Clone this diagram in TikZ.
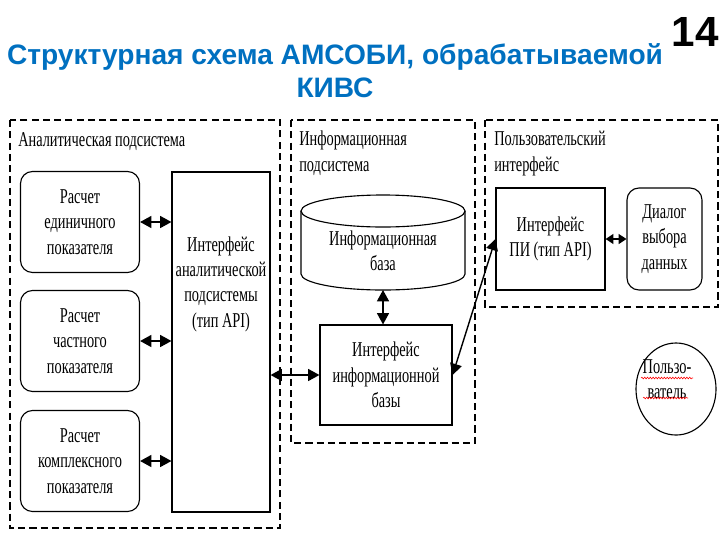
\documentclass[tikz,border=0pt]{standalone}
\usepackage{fontspec}
\setmainfont{Liberation Serif}[FakeStretch=0.68]
\newfontfamily\titlefont{Liberation Sans}
\usetikzlibrary{arrows.meta, shapes.geometric, decorations.pathmorphing}
\definecolor{titleblue}{RGB}{0,112,192}
\tikzset{>={Stealth[inset=0pt, length=8pt, width=8.5pt]}}
\tikzset{
  group/.style = {dashed, dash pattern=on 5pt off 3pt, line width=1.2pt},
  txt/.style = {align=center, inner sep=0pt, font=\fontsize{15}{18}\selectfont},
  sbox/.style = {txt, draw, line width=0.8pt},
  rbox/.style = {sbox, rounded corners=0.3cm},
  link/.style = {<->, line width=1pt}
}

\begin{document}
\begin{tikzpicture}[x=0.025cm, y=-0.025cm]
    \useasboundingbox (0,0) rectangle (720,540);
    % title
    \node[align=center, text=titleblue, font=\titlefont\bfseries\fontsize{20}{23.4}\selectfont] (title) at (335,71) {Структурная схема АМСОБИ, обрабатываемой\\КИВС};
    \node[font=\titlefont\bfseries\fontsize{30}{30}\selectfont] (page) at (695,32) {14};
    % subsystem frames
    \draw[group] (10,120) rectangle (280,528);
    \draw[group] (291,120) rectangle (475,443);
    \draw[group] (485,120) rectangle (718,307);
    \node[txt, anchor=west] (anatitle) at (18,142) {Аналитическая подсистема};
    \node[txt, anchor=north west, align=left] (infotitle) at (299,131) {Информационная\\подсистема};
    \node[txt, anchor=north west, align=left] (uititle) at (494,131) {Пользовательский\\интерфейс};
    % analytic subsystem
    \node[rbox, minimum width=2.975cm, minimum height=2.525cm] (single) at (80,222) {Расчет\\единичного\\показателя};
    \node[rbox, minimum width=2.975cm, minimum height=2.525cm] (partial) at (80,341) {Расчет\\частного\\показателя};
    \node[rbox, minimum width=2.975cm, minimum height=2.525cm] (complex) at (80,461) {Расчет\\комплексного\\показателя};
    \node[sbox, minimum width=2.45cm, minimum height=8.5cm] (apiana) at (221,342) {};
    \node[txt] (apianatext) at (221,284) {Интерфейс\\аналитической\\подсистемы\\(тип API)};
    \draw[link] (single.east) -- (single.east -| apiana.west);
    \draw[link] (partial.east) -- (partial.east -| apiana.west);
    \draw[link] (complex.east) -- (complex.east -| apiana.west);
    % information subsystem
    \draw[line width=0.8pt] (301,211) -- (301,274) arc[start angle=180, end angle=360, x radius=2.05cm, y radius=0.4cm] -- (465,211);
    \draw[line width=0.8pt] (383,211) ellipse [x radius=2.05cm, y radius=0.4cm];
    \node[txt] (db) at (383,251) {Информационная\\база};
    \coordinate (dbbot) at (383,290);
    \node[sbox, minimum width=3.3cm, minimum height=2.5cm] (dbif) at (386,375) {Интерфейс\\информационной\\базы};
    \draw[link] (dbbot) -- (dbbot |- dbif.north);
    \draw[link] (dbif.west) -- (dbif.west -| apiana.east);
    % user interface
    \node[sbox, minimum width=2.725cm, minimum height=2.55cm] (apiui) at (550.5,239) {Интерфейс\\ПИ (тип API)};
    \node[rbox, minimum width=1.875cm, minimum height=2.55cm] (dialog) at (664.5,239) {Диалог\\выбора\\данных};
    \draw[link, >={Stealth[inset=0pt, length=5.5pt, width=7pt]}] (apiui.east) -- (dialog.west);
    \draw[link] (dbif.east) -- (apiui.west);
    % user
    \node[ellipse, draw, line width=0.8pt, minimum width=2cm, minimum height=2.3cm] (user) at (676,389) {};
    \node[txt] (usertext) at (667,379) {Пользо-\\ватель};
    \draw[red, line width=0.4pt, decorate, decoration={snake, segment length=2pt, amplitude=0.6pt}] (641,378) -- (693,378);
    \draw[red, line width=0.4pt, decorate, decoration={snake, segment length=2pt, amplitude=0.6pt}] (643,398) -- (688,398);
\end{tikzpicture}
\end{document}
